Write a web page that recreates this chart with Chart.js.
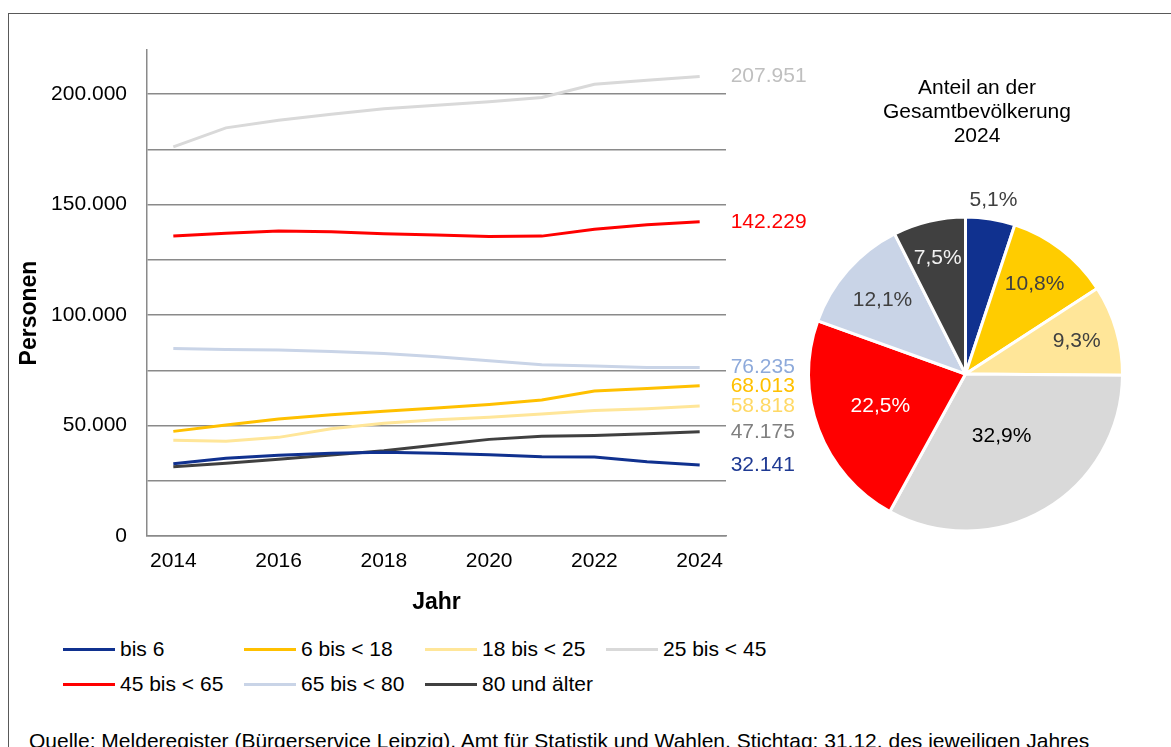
<!DOCTYPE html>
<html><head><meta charset="utf-8">
<script src="https://cdn.jsdelivr.net/npm/chart.js@4.4.1/dist/chart.umd.min.js"></script>
<style>
html,body{margin:0;padding:0;background:#fff;width:1171px;height:747px;overflow:hidden;font-family:"Liberation Sans",Arial,sans-serif;}
#frame{position:absolute;left:8px;top:13px;width:1300px;height:900px;border:1px solid #595959;box-sizing:border-box;}
#lineWrap{position:absolute;left:0;top:0;width:840px;height:625px;}
#pieWrap{position:absolute;left:800px;top:170px;width:331px;height:370px;}
#pieTitle{position:absolute;left:827px;top:75px;width:300px;text-align:center;font-size:21px;line-height:24px;color:#000;}
.lg{position:absolute;font-size:21px;line-height:24px;color:#000;white-space:nowrap;}
.lg i{display:inline-block;width:52px;height:3px;vertical-align:middle;margin-right:5px;position:relative;top:-1px;}
#src{position:absolute;left:29px;top:729px;font-size:21px;line-height:24px;color:#000;white-space:nowrap;}
</style></head>
<body>
<div id="frame"></div>
<div id="lineWrap"><canvas id="lineChart" width="840" height="625"></canvas></div>
<div id="pieTitle">Anteil an der<br>Gesamtbevölkerung<br>2024</div>
<div id="pieWrap"><canvas id="pieChart" width="331" height="370"></canvas></div>
<div id="legend"></div>
<div id="src">Quelle: Melderegister (Bürgerservice Leipzig), Amt für Statistik und Wahlen, Stichtag: 31.12. des jeweiligen Jahres</div>
<script>
// ---- data ----
const years = ['2014','2015','2016','2017','2018','2019','2020','2021','2022','2023','2024'];
const seriesNames = ['bis 6','6 bis < 18','18 bis < 25','25 bis < 45','45 bis < 65','65 bis < 80','80 und älter'];
const bis6   = [32730,35150,36510,37420,37870,37420,36800,35900,35750,33630,32141];
const b6_18  = [47360,50230,52940,54900,56420,57920,59580,61540,65610,66810,68013];
const b18_25 = [43290,42840,44650,48570,50990,52650,53700,55200,56860,57620,58818];
const b25_45 = [176160,184760,188240,190960,193360,195030,196540,198500,204530,206340,207951];
const b45_65 = [135750,137100,138010,137700,136800,136200,135600,135750,138900,140900,142229];
const b65_80 = [84930,84480,84170,83570,82660,81150,79340,77530,76920,76300,76235];
const b80    = [31370,32880,34690,36650,38610,41180,43740,45100,45550,46300,47175];
const yAxisMax = 220000, yGridStep = 25000, yLabelStep = 50000, yLabelMax = 200000;
const xAxisTitle = 'Jahr', yAxisTitle = 'Personen';

// ---- styles ----
const lineColors  = ['#10318f','#ffc000','#ffe699','#d9d9d9','#ff0000','#c9d4e7','#404040'];
const labelColors = ['#1f3a93','#ffc000','#ffd966','#bfbfbf','#ff0000','#8eaadb','#7f7f7f'];
const pieColors   = ['#10318f','#ffcc00','#ffe699','#d9d9d9','#ff0000','#c9d4e7','#404040'];
const pieLabelColors = ['#404040','#404040','#404040','#000000','#ffffff','#404040','#f2f2f2'];
const FONT = '"Liberation Sans", Arial, sans-serif';

const allSeries = [bis6,b6_18,b18_25,b25_45,b45_65,b65_80,b80];
const fmt = v => String(Math.round(v)).replace(/\B(?=(\d{3})+(?!\d))/g, '.');

Chart.defaults.font.family = FONT;
Chart.defaults.color = '#000';

const endLabels = {
  id:'endLabels',
  afterDatasetsDraw(chart){
    const ctx = chart.ctx;
    ctx.save();
    ctx.font = '21px ' + FONT;
    ctx.textBaseline = 'middle';
    ctx.textAlign = 'left';
    chart.data.datasets.forEach((ds,i)=>{
      const meta = chart.getDatasetMeta(i);
      const p = meta.data[meta.data.length-1];
      ctx.fillStyle = labelColors[i];
      ctx.fillText(fmt(ds.data[ds.data.length-1]), p.x + 31, p.y);
    });
    ctx.restore();
  }
};
const yTitle = {
  id:'yTitle',
  afterDraw(chart){
    const ctx = chart.ctx, a = chart.chartArea;
    ctx.save();
    ctx.font = 'bold 23px ' + FONT;
    ctx.fillStyle = '#000';
    ctx.textAlign = 'center';
    ctx.textBaseline = 'middle';
    ctx.translate(30, (a.top + a.bottom)/2 + 20);
    ctx.rotate(-Math.PI/2);
    ctx.fillText(yAxisTitle, 0, 0);
    ctx.restore();
  }
};

new Chart(document.getElementById('lineChart'), {
  type:'line',
  data:{
    labels: years,
    datasets: allSeries.map((d,i)=>({
      label: seriesNames[i], data: d, borderColor: lineColors[i], backgroundColor: lineColors[i],
      borderWidth: 3, pointRadius: 0, tension: 0, fill: false
    }))
  },
  options:{
    responsive:false, animation:false, events:[],
    layout:{padding:{top:50,right:114,left:0,bottom:0}},
    plugins:{legend:{display:false}, tooltip:{enabled:false}},
    scales:{
      x:{
        offset:true,
        grid:{display:false, drawTicks:false},
        border:{display:true, color:'#8a8a8a', width:1.5},
        ticks:{autoSkip:false, maxRotation:0, padding:13, font:{size:21}, color:'#000',
          callback:(v,i)=> i%2===0 ? years[i] : ''},
        title:{display:true, text:xAxisTitle, font:{size:23, weight:'bold'}, color:'#000', padding:{top:0,bottom:9}},
        afterFit(s){ s.height = 89; }
      },
      y:{
        min:0, max:yAxisMax,
        grid:{color:'#8a8a8a', lineWidth:1.5, drawTicks:false},
        border:{display:true, color:'#8a8a8a', width:1.5},
        ticks:{padding:20, font:{size:21}, color:'#000',
          callback:v=> (v % yLabelStep === 0 ? fmt(v) : '')},
        afterBuildTicks(s){
          const t = [];
          for (let v = 0; v <= yLabelMax; v += yGridStep) t.push({value:v});
          s.ticks = t;
        },
        afterFit(s){ s.width = 147; }
      }
    }
  },
  plugins:[endLabels, yTitle]
});

// legend (HTML)
const legend = document.getElementById('legend');
seriesNames.forEach((n,i)=>{
  const d = document.createElement('div');
  d.className='lg';
  d.style.left = (63 + (i%4)*181) + 'px';
  d.style.top = (637 + Math.floor(i/4)*35) + 'px';
  d.innerHTML = '<i style="background:'+lineColors[i]+'"></i>'+n;
  legend.appendChild(d);
});

// pie
const pieValues = allSeries.map(s=>s[s.length-1]);
const pieLabels = {
  id:'pieLabels',
  afterDatasetsDraw(chart){
    const ctx = chart.ctx;
    const meta = chart.getDatasetMeta(0);
    const data = chart.data.datasets[0].data;
    const total = data.reduce((a,b)=>a+b,0);
    ctx.save();
    ctx.font = '21px ' + FONT;
    ctx.textAlign='center'; ctx.textBaseline='middle';
    meta.data.forEach((arc,i)=>{
      const pct = data[i]/total*100;
      const ang = (arc.startAngle + arc.endAngle)/2;
      const f = pct < 6 ? 1.12 : 0.85 - pct*0.012;
      const r = arc.outerRadius * f;
      ctx.fillStyle = pieLabelColors[i];
      ctx.fillText(pct.toFixed(1).replace('.',',')+'%', arc.x + Math.cos(ang)*r, arc.y + Math.sin(ang)*r);
    });
    ctx.restore();
  }
};
new Chart(document.getElementById('pieChart'), {
  type:'pie',
  data:{labels: seriesNames, datasets:[{data: pieValues, backgroundColor: pieColors, borderColor:'#ffffff', borderWidth:3}]},
  options:{
    responsive:false, animation:false, events:[],
    layout:{padding:{top:45,bottom:7,left:7,right:7}},
    plugins:{legend:{display:false}, tooltip:{enabled:false}}
  },
  plugins:[pieLabels]
});
</script>
</body></html>
